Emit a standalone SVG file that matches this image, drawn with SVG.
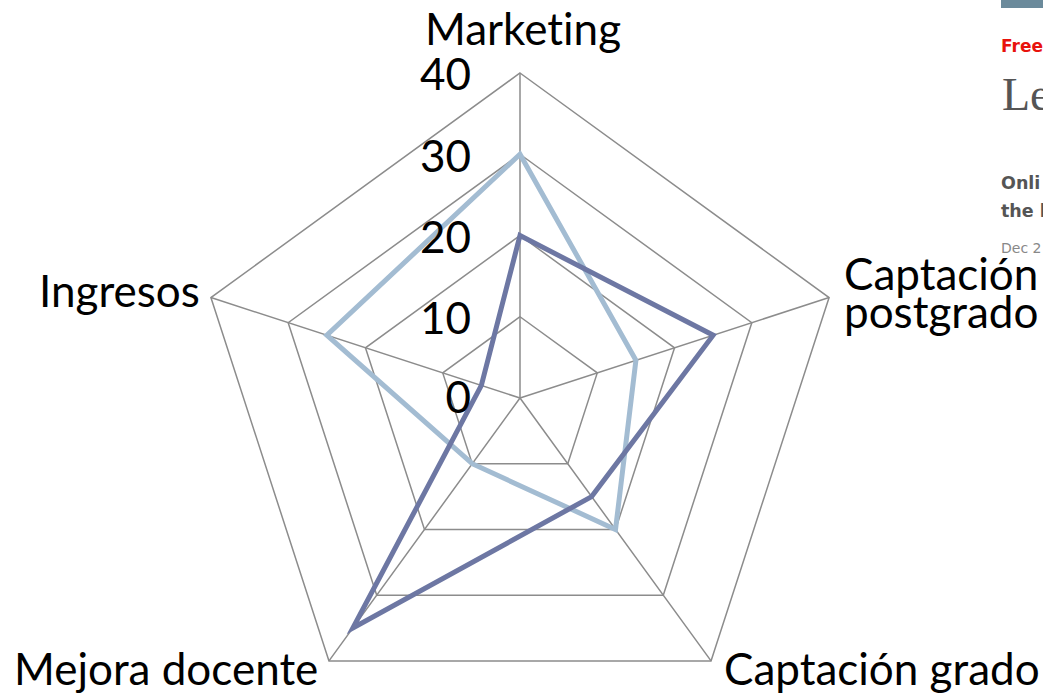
<svg xmlns="http://www.w3.org/2000/svg" width="1043" height="700" viewBox="0 0 1043 700">
<style>
.grid{fill:none;stroke:#8c8c8c;stroke-width:1.5}
.s1{fill:none;stroke:#a3bcd2;stroke-width:5;stroke-linejoin:miter}
.s2{fill:none;stroke:#6d77a3;stroke-width:5;stroke-linejoin:miter}
.lbl{font-family:Lato,"Open Sans","Liberation Sans",sans-serif;font-size:44px;fill:#000;font-variant-ligatures:none}
.val{font-family:Lato,"Open Sans","Liberation Sans",sans-serif;font-size:44px;fill:#000;text-anchor:end}
.web{font-family:"DejaVu Sans",Verdana,sans-serif}
</style>
<rect width="1043" height="700" fill="#fff"/>
<g id="web-fragment">
<rect x="1001" y="0" width="42" height="8" fill="#6b8a9b"/>
<text class="web" x="1001" y="52" font-size="17" font-weight="bold" fill="#e8120c">Free</text>
<text x="1002" y="110" font-family="'Liberation Serif',serif" font-size="46" fill="#555">Le</text>
<text class="web" x="1001" y="189" font-size="17.5" font-weight="bold" fill="#555">Onli</text>
<text class="web" x="1001" y="217" font-size="17.5" font-weight="bold" fill="#555">the l</text>
<text class="web" x="1001" y="253" font-size="14" fill="#888">Dec 2</text>
</g>
<g id="grid">
<polygon class="grid" points="520,316.75 597.27,372.89 567.76,463.73 472.24,463.73 442.73,372.89"/>
<polygon class="grid" points="520,235.5 674.55,347.78 615.52,529.47 424.48,529.47 365.45,347.78"/>
<polygon class="grid" points="520,154.25 751.82,322.68 663.27,595.2 376.73,595.2 288.18,322.68"/>
<polygon class="grid" points="520,73 829.09,297.57 711.03,660.93 328.97,660.93 210.91,297.57"/>
<path class="grid" d="M520,398L520,73M520,398L829.09,297.57M520,398L711.03,660.93M520,398L328.97,660.93M520,398L210.91,297.57"/>
</g>
<g id="connectors">
<polygon id="series-light" class="s1" points="520,154.25 635.91,360.34 615.52,529.47 472.24,463.73 326.82,335.23"/>
<polygon id="series-dark" class="s2" points="520,235.5 713.18,335.23 591.64,496.6 352.85,628.06 481.36,385.45"/>
</g>
<g id="axis-values">
<text class="val" x="471" y="90">40</text>
<text class="val" x="471" y="172">30</text>
<text class="val" x="471" y="253">20</text>
<text class="val" x="471" y="334">10</text>
<text class="val" x="471" y="413">0</text>
</g>
<g id="node-marketing"><text class="lbl" x="425" y="45">Marketing</text></g>
<g id="node-captacion-postgrado"><text class="lbl" x="844" y="290">Captación</text><text class="lbl" x="844" y="328">postgrado</text></g>
<g id="node-captacion-grado"><text class="lbl" x="724" y="685">Captación grado</text></g>
<g id="node-mejora-docente"><text class="lbl" x="14" y="685">Mejora docente</text></g>
<g id="node-ingresos"><text class="lbl" x="39" y="307">Ingresos</text></g>
</svg>
